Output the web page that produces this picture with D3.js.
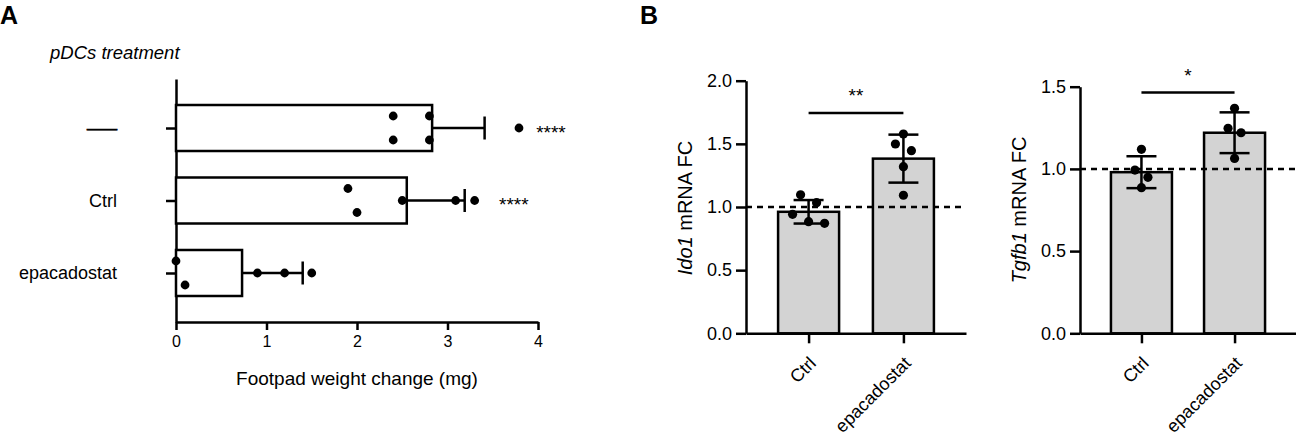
<!DOCTYPE html>
<html>
<head>
<meta charset="utf-8">
<script src="https://cdn.jsdelivr.net/npm/d3@7"></script>
<style>
  body { margin: 0; background: #fff; }
  svg { display: block; }
  text { font-family: "Liberation Sans", Arial, sans-serif; fill: #000; }
</style>
</head>
<body>
<svg id="chart" width="1296" height="440"></svg>
<script>
// ---- panel A data
const groupsA = ['—', 'Ctrl', 'epacadostat'];
const meanA = [2.83, 2.55, 0.73];
const sdA = [0.58, 0.64, 0.67];
const pointsA = [
  [2.4, 2.4, 2.8, 2.8, 3.79],
  [1.9, 2.0, 2.5, 3.09, 3.3],
  [0.0, 0.1, 0.9, 1.2, 1.5]
];
const starsA = ['****', '****', ''];
const starsAt = [3.98, 3.57, null];
const ticksA = [0, 1, 2, 3, 4];

// ---- panel B data
const groupsB = ['Ctrl', 'epacadostat'];
const ido1Mean = [0.962, 1.383];
const ido1Sd = [0.093, 0.19];
const ido1Points = [
  [1.097, 1.034, 0.942, 0.884, 0.871],
  [1.578, 1.499, 1.446, 1.319, 1.093]
];
const ido1Ticks = [0, 0.5, 1.0, 1.5, 2.0];
const ido1Sig = { level: 1.745, label: '**' };

const tgfb1Mean = [0.98, 1.22];
const tgfb1Sd = [0.097, 0.124];
const tgfb1Points = [
  [1.119, 0.993, 0.949, 0.886],
  [1.369, 1.247, 1.22, 1.064]
];
const tgfb1Ticks = [0, 0.5, 1.0, 1.5];
const tgfb1Sig = { level: 1.465, label: '*' };

const svg = d3.select('#chart');
const lw = 2.5;

// spread overlapping dots like prism does: cluster close values, spread them sideways
function spread(vals, pos, gap, step) {
  const idx = vals.map((v, i) => i).sort((a, b) => pos(vals[a]) - pos(vals[b]));
  const off = vals.map(() => 0);
  let cluster = [idx[0]];
  const flush = () => cluster.forEach((k, j) => (off[k] = (j - (cluster.length - 1) / 2) * step));
  for (let i = 1; i < idx.length; i++) {
    if (pos(vals[idx[i]]) - pos(vals[idx[i - 1]]) < gap) cluster.push(idx[i]);
    else { flush(); cluster = [idx[i]]; }
  }
  flush();
  return off;
}

function styleAxis(g, size) {
  g.attr('font-family', null).attr('font-size', size);
  g.selectAll('path, line').attr('stroke', '#000').attr('stroke-width', lw);
  g.selectAll('text').attr('fill', '#000');
}

// panel letters
svg.append('text').attr('x', 0).attr('y', 24).attr('font-size', 25).attr('font-weight', 'bold').text('A');
svg.append('text').attr('x', 640).attr('y', 24).attr('font-size', 25).attr('font-weight', 'bold').text('B');

// ================= panel A
{
  const x = d3.scaleLinear().domain([0, 4]).range([176, 538]);
  const y = d3.scalePoint().domain(groupsA).range([79, 322]).padding(0.676);
  const barH = 46;

  svg.append('text').attr('x', 50).attr('y', 59).attr('font-size', 18.5)
    .attr('font-style', 'italic').text('pDCs treatment');

  const gx = svg.append('g').attr('transform', 'translate(0,322)')
    .call(d3.axisBottom(x).tickValues(ticksA).tickFormat(d3.format('d'))
      .tickSize(8).tickSizeOuter(0).tickPadding(6));
  styleAxis(gx, 16);

  const gy = svg.append('g').attr('transform', 'translate(176,0)')
    .call(d3.axisLeft(y).tickSize(10).tickSizeOuter(0).tickPadding(49));
  styleAxis(gy, 18);
  gy.selectAll('.tick text').filter(d => d === '—')
    .attr('textLength', 30).attr('lengthAdjust', 'spacingAndGlyphs')
    .attr('stroke', '#000').attr('stroke-width', 0.6);

  svg.append('text').attr('x', (x(0) + x(4)) / 2).attr('y', 385).attr('font-size', 19)
    .attr('text-anchor', 'middle').text('Footpad weight change (mg)');

  const vis = svg.append('g');
  vis.selectAll('rect.bar').data(groupsA).join('rect')
    .attr('class', 'bar')
    .attr('x', x(0))
    .attr('y', d => y(d) - barH / 2)
    .attr('width', (d, i) => x(meanA[i]) - x(0))
    .attr('height', barH)
    .attr('fill', '#fff').attr('stroke', '#000').attr('stroke-width', lw);

  groupsA.forEach((g, i) => {
    const yc = y(g);
    const xe = x(meanA[i] + sdA[i]);
    vis.append('line').attr('x1', x(meanA[i])).attr('x2', xe).attr('y1', yc).attr('y2', yc)
      .attr('stroke', '#000').attr('stroke-width', lw);
    vis.append('line').attr('x1', xe).attr('x2', xe).attr('y1', yc - 11.5).attr('y2', yc + 11.5)
      .attr('stroke', '#000').attr('stroke-width', lw);

    const off = spread(pointsA[i], x, 9.5, 24);
    vis.selectAll(null).data(pointsA[i]).join('circle')
      .attr('cx', d => x(d))
      .attr('cy', (d, k) => yc + off[k])
      .attr('r', 4.4).attr('fill', '#000');

    if (starsA[i]) {
      vis.append('text').attr('x', x(starsAt[i])).attr('y', yc + 10.5)
        .attr('font-size', 19).text(starsA[i]);
    }
  });
}

// ================= panel B
function drawB(opt) {
  const x = d3.scalePoint().domain(groupsB).range(opt.xr).padding(0.66);
  const y = d3.scaleLinear().domain([0, opt.max]).range([333.3, opt.top]);
  const barW = 61;

  const gx = svg.append('g').attr('transform', 'translate(0,' + y(0) + ')')
    .call(d3.axisBottom(x).tickSize(10).tickSizeOuter(0));
  styleAxis(gx, 18);
  gx.selectAll('.tick text')
    .attr('y', null).attr('dy', null)
    .attr('text-anchor', 'end')
    .attr('transform', 'translate(8,31) rotate(-45)');

  const gy = svg.append('g').attr('transform', 'translate(' + opt.xr[0] + ',0)')
    .call(d3.axisLeft(y).tickValues(opt.ticks).tickFormat(d3.format('.1f'))
      .tickSize(10).tickSizeOuter(0).tickPadding(4));
  styleAxis(gy, 18);

  const title = svg.append('text')
    .attr('transform', 'translate(' + opt.titleX + ',' + opt.titleY + ') rotate(-90)')
    .attr('text-anchor', 'middle').attr('font-size', 20);
  title.append('tspan').attr('font-style', 'italic').text(opt.gene);
  title.append('tspan').text(' mRNA FC');

  const vis = svg.append('g');
  vis.selectAll('rect').data(groupsB).join('rect')
    .attr('x', d => x(d) - barW / 2)
    .attr('y', (d, i) => y(opt.mean[i]))
    .attr('width', barW)
    .attr('height', (d, i) => y(0) - y(opt.mean[i]))
    .attr('fill', '#d3d3d3').attr('stroke', '#000').attr('stroke-width', lw);

  // reference line at 1
  vis.append('line').attr('x1', opt.xr[0]).attr('x2', opt.xr[1])
    .attr('y1', y(1)).attr('y2', y(1))
    .attr('stroke', '#000').attr('stroke-width', lw).attr('stroke-dasharray', '6,5');

  groupsB.forEach((g, i) => {
    const xc = x(g);
    const hi = y(opt.mean[i] + opt.sd[i]);
    const lo = y(opt.mean[i] - opt.sd[i]);
    vis.append('line').attr('x1', xc).attr('x2', xc).attr('y1', hi).attr('y2', lo)
      .attr('stroke', '#000').attr('stroke-width', lw);
    [hi, lo].forEach(yy => {
      vis.append('line').attr('x1', xc - 15).attr('x2', xc + 15).attr('y1', yy).attr('y2', yy)
        .attr('stroke', '#000').attr('stroke-width', lw);
    });

    const off = spread(opt.points[i], y, 9.5, opt.step);
    vis.selectAll(null).data(opt.points[i]).join('circle')
      .attr('cx', (d, k) => xc + off[k])
      .attr('cy', d => y(d))
      .attr('r', 4.6).attr('fill', '#000');
  });

  // significance bar
  const ys = y(opt.sig.level);
  vis.append('line').attr('x1', x(groupsB[0])).attr('x2', x(groupsB[1]))
    .attr('y1', ys).attr('y2', ys).attr('stroke', '#000').attr('stroke-width', lw);
  vis.append('text').attr('x', (x(groupsB[0]) + x(groupsB[1])) / 2).attr('y', ys - 10.5)
    .attr('text-anchor', 'middle').attr('font-size', 19).text(opt.sig.label);
}

drawB({
  xr: [746, 966], max: 2, top: 80.7, ticks: ido1Ticks,
  mean: ido1Mean, sd: ido1Sd, points: ido1Points, sig: ido1Sig,
  gene: 'Ido1', titleX: 692, titleY: 208, step: 16
});

drawB({
  xr: [1080, 1296], max: 1.5, top: 86.7, ticks: tgfb1Ticks,
  mean: tgfb1Mean, sd: tgfb1Sd, points: tgfb1Points, sig: tgfb1Sig,
  gene: 'Tgfb1', titleX: 1026, titleY: 210, step: 13
});
</script>
</body>
</html>
